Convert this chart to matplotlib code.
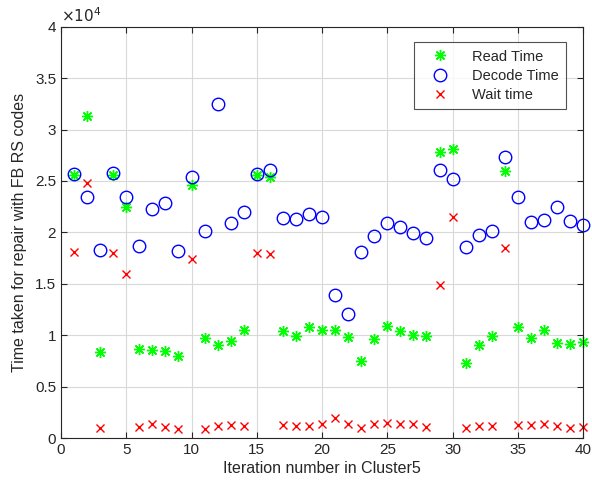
import matplotlib
matplotlib.use('Agg')
import matplotlib.pyplot as plt
from matplotlib.ticker import FuncFormatter

plt.rcParams['font.family'] = ['Liberation Sans', 'DejaVu Sans']

# Dados (valores em unidades brutas)
iteracoes = list(range(1, 41))

read_time = [25600, 31300, 8350, 25600, 22500, 8640, 8570, 8500, 8000, 24600,
             9770, 9060, 9480, 10500, 25600, 25400, 10400, 9930, 10800, 10480,
             10480, 9830, 7500, 9600, 10900, 10450, 10030, 9900, 27800, 28100,
             7340, 9060, 9930, 26000, 10800, 9770, 10500, 9300, 9200, 9400]

decode_time = [25700, 23450, 18300, 25800, 23400, 18700, 22300, 22900, 18200, 25400,
               20150, 32500, 20870, 22000, 25700, 26100, 21400, 21260, 21800, 21500,
               13940, 12100, 18100, 19700, 20900, 20500, 19960, 19500, 26100, 25200,
               18600, 19800, 20150, 27300, 23400, 21000, 21200, 22450, 21100, 20700]

wait_time = [18100, 24800, 970, 17960, 16000, 1070, 1390, 1130, 870, 17400,
             870, 1160, 1320, 1220, 17960, 17900, 1290, 1220, 1220, 1420,
             1940, 1420, 1000, 1390, 1460, 1390, 1420, 1100, 14900, 21500,
             1030, 1220, 1220, 18450, 1320, 1290, 1390, 1160, 1000, 1070]

cinza = (0.15, 0.15, 0.15)

fig = plt.figure(figsize=(5.92, 4.93), dpi=100)
ax = fig.add_axes([0.103, 0.111, 0.882, 0.835])

# asterisco estilo MATLAB: 8 raios
ax.plot(iteracoes, read_time, linestyle='none', marker=(8, 2, 0), color=(0, 1, 0),
        markersize=8, markeredgewidth=1.0, label='Read Time', clip_on=False)
ax.plot(iteracoes, decode_time, linestyle='none', marker='o', markerfacecolor='none',
        markeredgecolor='blue', markersize=9, markeredgewidth=1.0, label='Decode Time',
        clip_on=False)
ax.plot(iteracoes, wait_time, linestyle='none', marker='x', color='red',
        markersize=6, markeredgewidth=1.0, label='Wait time', clip_on=False)

ax.set_xlim(0, 40)
ax.set_ylim(0, 40000)
ax.set_xticks(range(0, 41, 5))
ax.set_yticks(range(0, 40001, 5000))
ax.yaxis.set_major_formatter(FuncFormatter(lambda v, p: '%g' % (v / 1e4)))

ax.grid(True, color=(0.85, 0.85, 0.85), linewidth=0.8)
ax.set_axisbelow(True)
ax.tick_params(direction='in', top=True, right=True, length=4, width=0.8,
               colors=cinza, labelsize=11)
for s in ax.spines.values():
    s.set_color(cinza)
    s.set_linewidth(0.8)

ax.set_xlabel('Iteration number in Cluster5', fontsize=11.5, color=cinza, labelpad=3)
ax.set_ylabel('Time taken for repair with FB RS codes', fontsize=11.5, color=cinza, labelpad=6)
ax.text(0.0, 1.005, r'$\times10^4$', transform=ax.transAxes, ha='left', va='bottom',
        fontsize=11, color=cinza)

leg = ax.legend(loc='upper right', bbox_to_anchor=(0.967, 0.962), borderaxespad=0,
                fancybox=False, edgecolor=cinza, fontsize=10.5, handletextpad=0.9,
                borderpad=0.5, labelspacing=0.35, handlelength=2.6)
leg.get_frame().set_linewidth(0.8)
for t in leg.get_texts():
    t.set_color(cinza)

fig.savefig('out.png', dpi=100)
plt.close(fig)
